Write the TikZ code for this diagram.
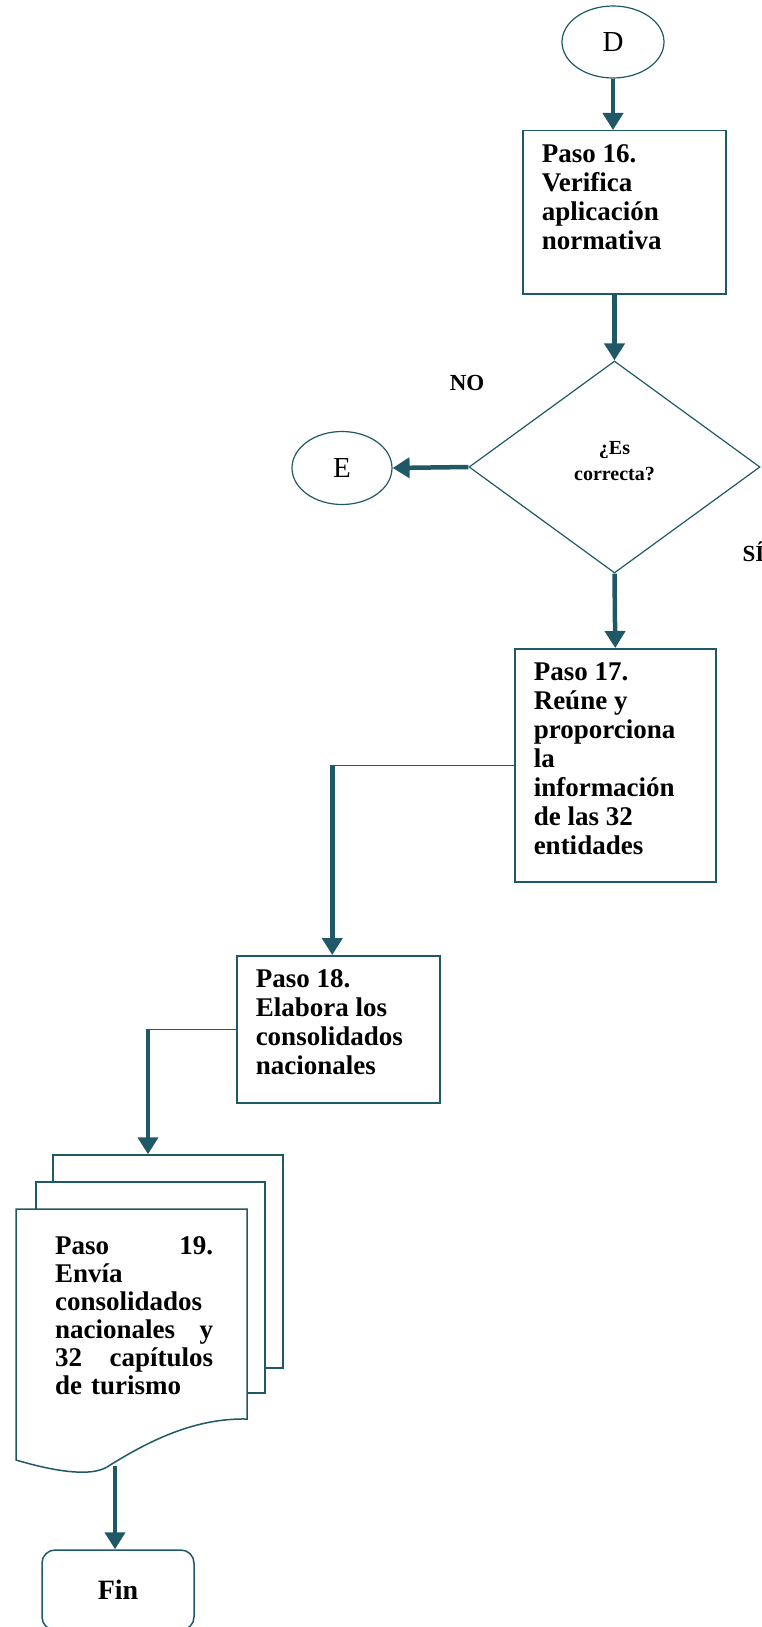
\documentclass[tikz,border=0pt]{standalone}
\usepackage{fontspec}
\setmainfont{Liberation Serif}
\usetikzlibrary{arrows.meta,shapes.geometric}
\definecolor{flowteal}{RGB}{31,89,104}

\begin{document}
\begin{tikzpicture}[x=1pt,y=-1pt,
  stepbox/.style={draw=flowteal, line width=1.5pt, anchor=north west, inner xsep=19pt, inner ysep=14pt, font=\bfseries\fontsize{27}{29}\selectfont},
  connector/.style={draw=flowteal, line width=1.2pt, ellipse, inner sep=0pt, minimum width=102pt, minimum height=72pt, font=\fontsize{29}{32}\selectfont},
  flow/.style={draw=flowteal, line width=4.5pt, -{Triangle[width=20pt,length=17pt]}},
  link/.style={draw=flowteal, line width=1.5pt},
  sheet/.style={draw=flowteal, line width=1.5pt, fill=white, inner sep=0pt},
  answer/.style={font=\bfseries\fontsize{23}{26}\selectfont}]
% The page is fixed to the size of the original drawing, measured in
% pixels, so that every coordinate below can be read off it directly.
\useasboundingbox (0,0) rectangle (762,1627);
% Off-page connector at the top and the first step.
\node[connector] (D) at (613,42) {D};
\node[stepbox] (p16) at (522,130) {\parbox[t][135pt][t]{165pt}{Paso 16.\\ Verifica\\ aplicación\\ normativa}};
% The decision; its right corner touches the edge of the page.  The
% question is given no size of its own, so that it sits around the
% math axis, a little above the centre, as in the original.
\node[diamond, draw=flowteal, line width=1.2pt, minimum width=291pt, minimum height=212pt, inner sep=0pt, font=\bfseries\fontsize{20}{26}\selectfont] (chk) at (614.5,467) {\raisebox{0pt}[0pt][0pt]{\begin{tabular}{@{}c@{}}¿Es\\correcta?\end{tabular}}};
\node[connector, minimum width=100pt, minimum height=73pt] (E) at (342,468) {E};
\node[answer] (no) at (467,383) {NO};
\node[answer, anchor=west] (si) at (739,552) {SÍ};
% Steps 17 and 18.
\node[stepbox] (p17) at (514,648) {\parbox[t][205pt][t]{163pt}{Paso 17.\\ Reúne y\\ proporciona\\ la\\ información\\ de las 32\\ entidades}};
\node[stepbox] (p18) at (236,955) {\parbox[t][119pt][t]{165pt}{Paso 18.\\ Elabora los\\ consolidados\\ nacionales}};
% Step 19 is a stack of documents: two plain sheets behind, and a
% front sheet with the wavy lower edge drawn on top of them.
\node[sheet, minimum width=230pt, minimum height=213pt] (s19c) at (168,1261.5) {};
\node[sheet, minimum width=229pt, minimum height=211pt] (s19b) at (150.5,1287.5) {};
\filldraw[draw=flowteal, fill=white, line width=1.5pt] (16,1209) -- (247,1209) -- (247,1419)
  .. controls (195,1418) and (150,1440) .. (107,1467)
  .. controls (92,1476) and (60,1473) .. (16,1460) -- cycle;
\node[anchor=north west, inner sep=0pt, text width=158pt, font=\bfseries\fontsize{27}{28}\selectfont] (p19) at (55,1236) {Paso\hfill 19.\\ Envía\\ consolidados\\ nacionales\hfill y\\ 32\hfill capítulos\\ de turismo};
\coordinate (d19) at (115,1466);
% The terminator, cut by the bottom of the page.
\node[draw=flowteal, line width=1.5pt, rounded corners=13pt, minimum width=152pt, minimum height=80pt, font=\bfseries\fontsize{28}{30}\selectfont] (fin) at (118,1590) {Fin};
% Now the arrows; the elbow connectors have a thin horizontal run
% and a thick vertical drop.
\draw[flow] (D.south) -- (D.south |- p16.north);
\draw[flow] (p16.south -| chk.north) -- (chk.north);
\draw[flow] (chk.west) -- (E.east);
\draw[flow] (chk.south) -- (p17.north);
\coordinate (k17) at ([xshift=-6pt]p18.north |- p17.west);
\draw[link] (p17.west) -- (k17);
\draw[flow] (k17) -- ([xshift=-6pt]p18.north);
\coordinate (k18) at ([xshift=-20pt]s19c.north |- p18.west);
\draw[link] (p18.west) -- (k18);
\draw[flow] (k18) -- ([xshift=-20pt]s19c.north);
\draw[flow] (d19) -- (d19 |- fin.north);
\end{tikzpicture}
\end{document}
